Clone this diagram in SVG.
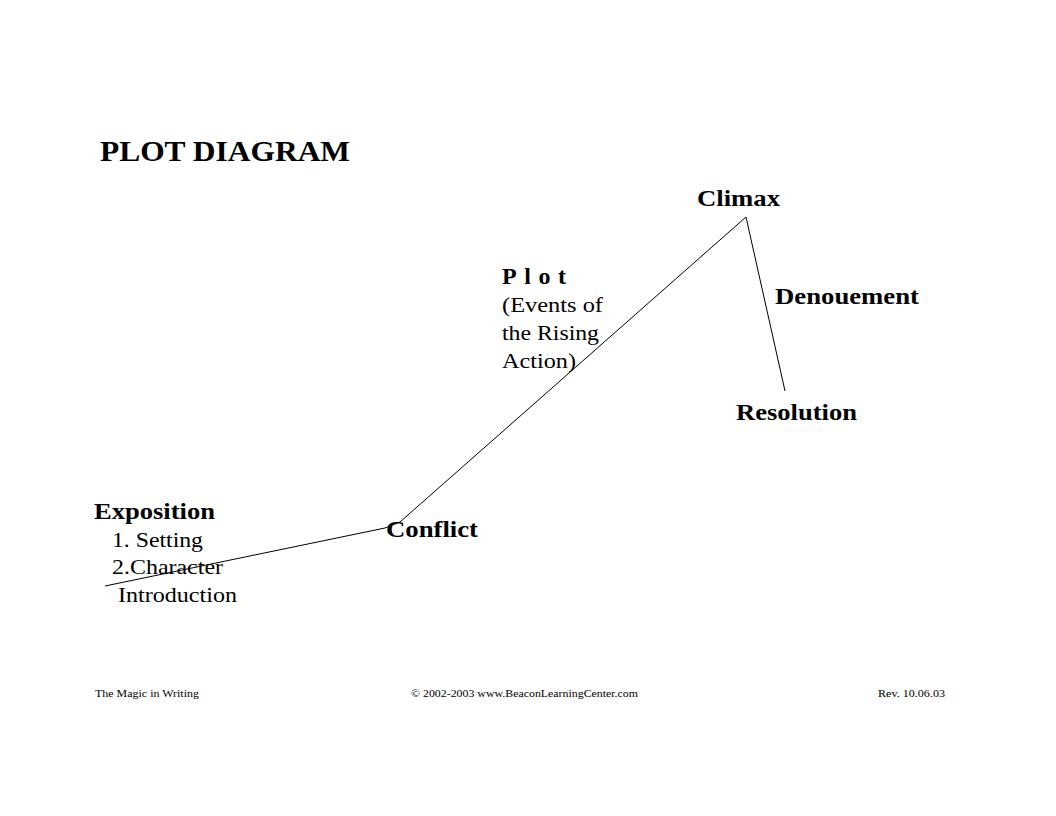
<svg xmlns="http://www.w3.org/2000/svg" width="1056" height="816" viewBox="0 0 1056 816">
<style>
text{font-family:"Liberation Serif",serif;fill:#000}
.h{font-weight:bold;font-size:24px}
.b{font-size:22px}
.f{font-size:11px}
</style>
<rect width="1056" height="816" fill="#fff"/>
<text x="100" y="161" font-weight="bold" font-size="30" textLength="250" lengthAdjust="spacingAndGlyphs">PLOT DIAGRAM</text>
<g id="connectors" stroke="#000" stroke-width="1" fill="none">
<polyline points="105,586 385,528 400,522 746,217 785,391"/>
</g>
<g id="exposition"><text class="h" x="94" y="519" textLength="121" lengthAdjust="spacingAndGlyphs">Exposition</text>
<text class="b" x="112" y="547" textLength="91" lengthAdjust="spacingAndGlyphs">1. Setting</text>
<text class="b" x="112" y="574" textLength="111" lengthAdjust="spacingAndGlyphs">2.Character</text>
<text class="b" x="118" y="602" textLength="119" lengthAdjust="spacingAndGlyphs">Introduction</text></g>
<g id="conflict"><text class="h" x="386" y="537" textLength="92" lengthAdjust="spacingAndGlyphs">Conflict</text></g>
<g id="plot"><text class="h" x="502" y="284" textLength="64" lengthAdjust="spacing">Plot</text>
<text class="b" x="502" y="312" textLength="101" lengthAdjust="spacingAndGlyphs">(Events of</text>
<text class="b" x="502" y="340" textLength="97" lengthAdjust="spacingAndGlyphs">the Rising</text>
<text class="b" x="502" y="368" textLength="74" lengthAdjust="spacingAndGlyphs">Action)</text></g>
<g id="climax"><text class="h" x="697" y="206" textLength="83" lengthAdjust="spacingAndGlyphs">Climax</text></g>
<g id="denouement"><text class="h" x="775" y="304" textLength="144" lengthAdjust="spacingAndGlyphs">Denouement</text></g>
<g id="resolution"><text class="h" x="736" y="420" textLength="121" lengthAdjust="spacingAndGlyphs">Resolution</text></g>
<g id="footer"><text class="f" x="95" y="697" textLength="104" lengthAdjust="spacingAndGlyphs">The Magic in Writing</text>
<text class="f" x="411" y="697" textLength="227" lengthAdjust="spacingAndGlyphs">© 2002-2003 www.BeaconLearningCenter.com</text>
<text class="f" x="878" y="697" textLength="67" lengthAdjust="spacingAndGlyphs">Rev. 10.06.03</text></g>
</svg>
